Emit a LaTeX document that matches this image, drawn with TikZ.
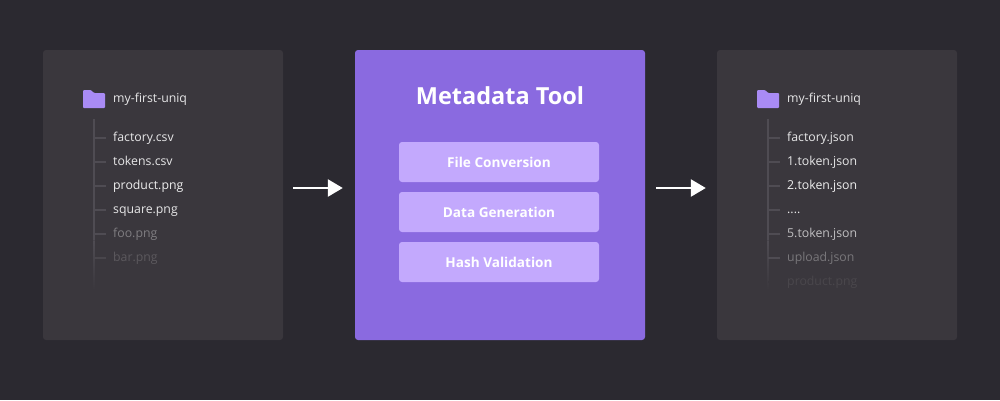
\documentclass[tikz,border=0pt]{standalone}
\usepackage{fontspec}
\setmainfont{Open Sans}
\usetikzlibrary{arrows.meta}
\definecolor{pagebg}{HTML}{2B2930}
\definecolor{panelbg}{HTML}{3A373D}
\definecolor{toolbg}{HTML}{8A6AE0}
\definecolor{stepbg}{HTML}{C3A9FD}
\definecolor{foldercol}{HTML}{A98BF5}
\definecolor{branchcol}{HTML}{4F4C53}
\tikzset{
  panel/.style={fill=panelbg,rounded corners=3pt,minimum width=240pt,minimum height=290pt,inner sep=0pt},
  toolbox/.style={fill=toolbg,rounded corners=3pt,minimum width=290pt,minimum height=290pt,inner sep=0pt},
  stepbox/.style={fill=stepbg,rounded corners=3pt,minimum width=200pt,minimum height=40pt,inner sep=0pt,
    text=white,text height=10pt,text depth=0pt,font=\fontsize{13.6}{15}\selectfont\bfseries},
  filelabel/.style={anchor=west,inner sep=0pt,text height=9pt,text depth=3pt,font=\fontsize{12.3}{15}\selectfont},
  branch/.style={line width=1.4pt},
  flow/.style={white,line width=2.5pt,-{Triangle[length=15pt,width=17pt]}},
}
\newcommand{\dotrow}{....}
% folder with its list, #1 = name prefix, #2 = x of the folder
\newcommand{\foldericon}[2]{
  \fill[foldercol,rounded corners=1pt] (#2,90) -- (#2+8,90) -- (#2+11,93) -- (#2+22,93) -- (#2+22,108) -- (#2,108) -- cycle;
  \shade[top color=branchcol,bottom color=panelbg] (#2+10.3,240) rectangle (#2+11.7,290);
  \fill[branchcol] (#2+10.3,119) rectangle (#2+11.7,240);
  \node[filelabel,text=white!88!panelbg] (#1root) at (#2+30,99.5) {my-first-uniq};
}
\begin{document}
\begin{tikzpicture}[x=1pt,y=-1pt,>=stealth]
        \useasboundingbox (0,0) rectangle (1000,400);
        \fill[pagebg] (0,0) rectangle (1000,400);
        \node[panel] (srcpanel) at (163,195) {};
        \node[toolbox] (tool) at (500,195) {};
        \node[panel] (dstpanel) at (837,195) {};
        \node[text=white,inner sep=0pt,font=\fontsize{23.5}{28}\selectfont\bfseries] (title) at (500,96) {Metadata Tool};
        \node[stepbox] (conv) at (499,162) {File Conversion};
        \node[stepbox] (gen) at (499,212) {Data Generation};
        \node[stepbox] (hash) at (499,262) {Hash Validation};
        \foldericon{src}{83}
        \foreach \i/\name/\tone/\btone in {0/factory.csv/88/100,1/tokens.csv/88/100,2/product.png/92/100,3/square.png/88/100,4/foo.png/35/100,5/bar.png/17/70}{
          \node[filelabel,text=white!\tone!panelbg] (src\i) at (113,138+24*\i) {\name};
          \draw[branch,branchcol!\btone!panelbg] ([xshift=-7pt]src\i.west) -- ++(-12,0);
        }
        \foldericon{dst}{757}
        \foreach \i/\name/\tone/\btone in {0/factory.json/88/100,1/1.token.json/88/100,2/2.token.json/92/100,3/\dotrow/88/100,4/5.token.json/68/100,5/upload.json/32/100,6/product.png/8/0}{
          \node[filelabel,text=white!\tone!panelbg] (dst\i) at (787,138+24*\i) {\name};
          \draw[branch,branchcol!\btone!panelbg] ([xshift=-7pt]dst\i.west) -- ++(-12,0);
        }
        \draw[flow,shorten <=10pt,shorten >=12pt] ([yshift=7pt]srcpanel.east) -- ([yshift=7pt]tool.west);
        \draw[flow,shorten <=11pt,shorten >=11pt] ([yshift=7pt]tool.east) -- ([yshift=7pt]dstpanel.west);
    \end{tikzpicture}
\end{document}
